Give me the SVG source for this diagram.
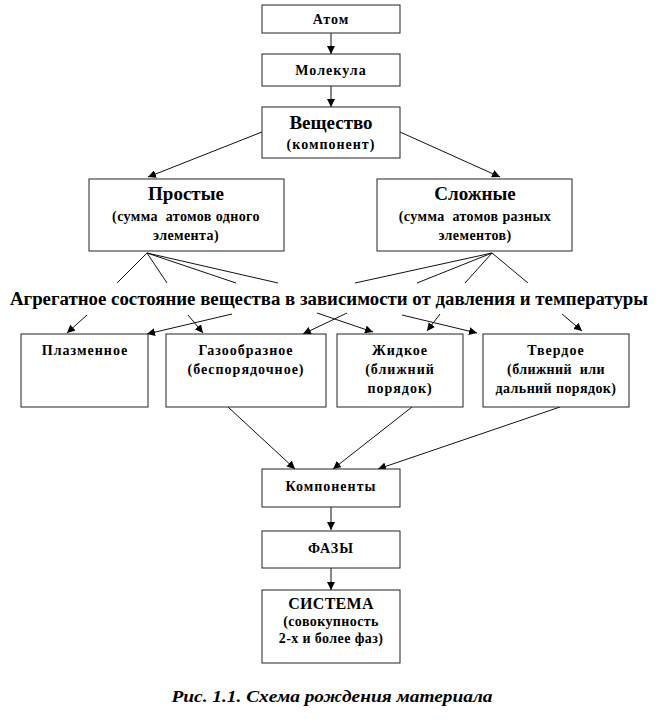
<svg xmlns="http://www.w3.org/2000/svg" width="659" height="728" viewBox="0 0 659 728">
<style>
  .box { fill: #fff; stroke: #222; stroke-width: 1; }
  .t { font-family: "Liberation Serif", "DejaVu Serif", "Times New Roman", serif; font-weight: bold; fill: #000; text-anchor: middle; }
  .s14 { font-size: 14px; letter-spacing: 1px; }
  .sub { font-size: 14px; letter-spacing: 0.4px; }
  .s16 { font-size: 16px; letter-spacing: 0.3px; }
  .s19 { font-size: 19px; }
  .hd { font-size: 18px; }
  .conn path { fill: none; stroke: #111; stroke-width: 1; marker-end: url(#arr); }
  .cap { font-family: "Liberation Serif", "DejaVu Serif", "Times New Roman", serif; font-style: italic; font-weight: bold; font-size: 16px; text-anchor: middle; }
</style>
<defs>
  <marker id="arr" markerUnits="userSpaceOnUse" markerWidth="9" markerHeight="8" refX="8" refY="4" orient="auto">
    <path d="M0,0 L8,4 L0,8 Z" fill="#000"/>
  </marker>
</defs>
<rect width="659" height="728" fill="#fff"/>

<g class="conn">
  <path d="M331,33 L331,54"/>
  <path d="M331,86 L331,107"/>
  <path d="M262,132 L148,177"/>
  <path d="M400,132 L500,177"/>
  <path d="M147,253 L117,283 M87,315 L67,333"/>
  <path d="M147,253 L167,283 M188,315 L203,333"/>
  <path d="M147,253 L236,283 M317,313 L373,332"/>
  <path d="M147,253 L278,283 M402,315 L477,333"/>
  <path d="M492,253 L355,283 M232,314 L147,334"/>
  <path d="M492,253 L417,283 M347,313 L303,334"/>
  <path d="M492,253 L465,283 M440,314 L427,331"/>
  <path d="M492,253 L528,283 M562,314 L582,331"/>
  <path d="M228,407 L295,469"/>
  <path d="M412,407 L333,469"/>
  <path d="M560,407 L378,469"/>
  <path d="M331,507 L331,530"/>
  <path d="M331,568 L331,590"/>
</g>

<g id="atom">
  <rect class="box" x="262" y="5" width="138" height="28"/>
  <text class="t s14" x="331" y="24">Атом</text>
</g>
<g id="molecule">
  <rect class="box" x="262" y="54" width="138" height="32"/>
  <text class="t s14" x="331" y="75">Молекула</text>
</g>
<g id="substance">
  <rect class="box" x="262" y="107" width="138" height="51"/>
  <text class="t s19" x="331" y="129">Вещество</text>
  <text class="t s14" x="331" y="149">(компонент)</text>
</g>
<g id="simple">
  <rect class="box" x="89" y="179" width="195" height="72"/>
  <text class="t s19" x="186" y="200">Простые</text>
  <text class="t sub" x="186" y="221" xml:space="preserve">(сумма  атомов одного</text>
  <text class="t sub" x="186" y="240">элемента)</text>
</g>
<g id="complex">
  <rect class="box" x="377" y="179" width="195" height="72"/>
  <text class="t s19" x="475" y="200">Сложные</text>
  <text class="t sub" x="475" y="221" xml:space="preserve">(сумма  атомов разных</text>
  <text class="t sub" x="475" y="240">элементов)</text>
</g>
<g id="heading">
  <text class="t hd" x="329" y="305" textLength="638" lengthAdjust="spacingAndGlyphs">Агрегатное состояние вещества в зависимости от давления и температуры</text>
</g>
<g id="plasma">
  <rect class="box" x="21" y="334" width="127" height="73"/>
  <text class="t s14" x="85" y="355">Плазменное</text>
</g>
<g id="gas">
  <rect class="box" x="166" y="334" width="160" height="73"/>
  <text class="t s14" x="246" y="355">Газообразное</text>
  <text class="t s14" x="246" y="374">(беспорядочное)</text>
</g>
<g id="liquid">
  <rect class="box" x="337" y="334" width="126" height="73"/>
  <text class="t s14" x="400" y="355">Жидкое</text>
  <text class="t s14" x="400" y="374">(ближний</text>
  <text class="t s14" x="400" y="393">порядок)</text>
</g>
<g id="solid">
  <rect class="box" x="483" y="334" width="146" height="73"/>
  <text class="t s14" x="556" y="355">Твердое</text>
  <text class="t sub" x="556" y="374" xml:space="preserve">(ближний  или</text>
  <text class="t sub" x="556" y="393">дальний порядок)</text>
</g>
<g id="components">
  <rect class="box" x="262" y="469" width="138" height="38"/>
  <text class="t s14" x="331" y="491">Компоненты</text>
</g>
<g id="phases">
  <rect class="box" x="262" y="531" width="138" height="37"/>
  <text class="t s14" x="331" y="553">ФАЗЫ</text>
</g>
<g id="system">
  <rect class="box" x="262" y="590" width="138" height="73"/>
  <text class="t s16" x="331" y="609">СИСТЕМА</text>
  <text class="t sub" x="331" y="626">(совокупность</text>
  <text class="t sub" x="331" y="643">2-х и более фаз)</text>
</g>
<text class="cap" x="332" y="702" textLength="321" lengthAdjust="spacingAndGlyphs">Рис. 1.1. Схема рождения материала</text>
</svg>
